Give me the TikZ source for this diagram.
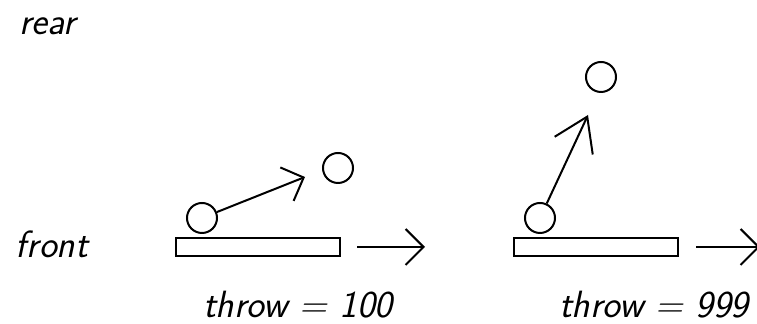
\documentclass[tikz,border=0pt]{standalone}
\usepackage{tikz}
\usetikzlibrary{positioning,arrows.meta}

\begin{document}
\begin{tikzpicture}[
x=0.5pt, y=-0.5pt,
line width=1pt,
ball/.style={draw, circle, inner sep=0pt, minimum size=15pt},
plank/.style={draw, rectangle, inner sep=0pt, minimum width=82pt, minimum height=9pt},
label/.style={font=\sffamily\itshape\fontsize{19}{22}\selectfont, inner sep=0pt, anchor=base west},
arrow/.style={-{Straight Barb[length=9pt, width=18pt]}, line width=1pt},
bigarrow/.style={-{Straight Barb[length=16pt, width=21pt]}, line width=1pt}
]
\useasboundingbox (0,0) rectangle (757,324);
\node[label] (rear) at (18,35) {rear};
\node[label] (front) at (15,258) {front};
% first throw
\node[plank] (plankA) at (258,247) {};
\node[ball] (lowA) at (202,218) {};
\node[ball] (highA) at (338,168) {};
\coordinate (tipA) at (305,177);
\coordinate (startA) at (357,247);
\coordinate (goA) at (425,247);
\draw[arrow] (lowA) -- (tipA);
\draw[arrow] (startA) -- (goA);
\node[label] (throwA) at (202,318) {throw = 100};
% second throw
\node[plank] (plankB) at (596,247) {};
\node[ball] (lowB) at (540,218) {};
\node[ball] (highB) at (601,77) {};
\coordinate (tipB) at (588,115);
\coordinate (startB) at (696,247);
\coordinate (goB) at (760,247);
\draw[bigarrow] (lowB) -- (tipB);
\draw[arrow] (startB) -- (goB);
\node[label] (throwB) at (558,318) {throw = 999};
\end{tikzpicture}
\end{document}
